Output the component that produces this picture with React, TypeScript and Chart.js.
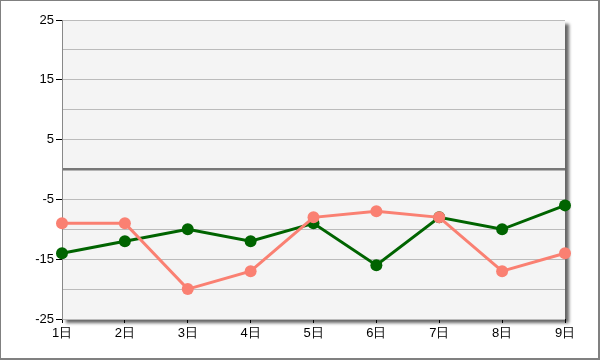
import React, { useEffect, useRef } from "react";
import { Chart, registerables } from "chart.js";

Chart.register(...registerables);

const categories = ["1日", "2日", "3日", "4日", "5日", "6日", "7日", "8日", "9日"];
const greenValues = [-14, -12, -10, -12, -9, -16, -8, -10, -6];
const salmonValues = [-9, -9, -20, -17, -8, -7, -8, -17, -14];
const yMin = -25;
const yMax = 25;
const labeledTicks = [25, 15, 5, -5, -15, -25];

const bgPlugin = {
  id: "bgPlugin",
  beforeDraw(chart: any) {
    const { ctx, chartArea, width, height } = chart;
    ctx.save();
    ctx.fillStyle = "#ffffff";
    ctx.fillRect(0, 0, width, height);
    // outer border
    ctx.fillStyle = "#808080";
    ctx.fillRect(0, 0, width, 1);
    ctx.fillRect(0, 0, 1, height);
    ctx.fillRect(width - 2, 0, 2, height);
    ctx.fillRect(0, height - 2, width, 2);
    // plot shadow + background
    const { left, top, right, bottom } = chartArea;
    ctx.shadowColor = "rgba(0,0,0,0.6)";
    ctx.shadowBlur = 3;
    ctx.shadowOffsetX = 4;
    ctx.shadowOffsetY = 4;
    ctx.fillStyle = "#f4f4f4";
    ctx.fillRect(left, top, right - left, bottom - top);
    ctx.restore();
  },
};

export default function App() {
  const ref = useRef<HTMLCanvasElement>(null);
  useEffect(() => {
    if (!ref.current) return;
    const font = { family: "'Liberation Sans', Arial, sans-serif", size: 13 };
    const chart = new Chart(ref.current, {
      type: "line",
      data: {
        labels: categories,
        datasets: [
          {
            data: salmonValues,
            borderColor: "#fa8072",
            backgroundColor: "#fa8072",
            borderWidth: 3,
            pointRadius: 6,
            pointHoverRadius: 6,
            pointBorderWidth: 0,
            tension: 0,
          },
          {
            data: greenValues,
            borderColor: "#006400",
            backgroundColor: "#006400",
            borderWidth: 3,
            pointRadius: 6,
            pointHoverRadius: 6,
            pointBorderWidth: 0,
            tension: 0,
          },
        ],
      },
      options: {
        responsive: false,
        animation: false,
        layout: { padding: { left: 0, top: 20, right: 35, bottom: 0 } },
        plugins: { legend: { display: false }, tooltip: { enabled: false } },
        scales: {
          x: {
            offset: false,
            border: { display: false },
            grid: {
              drawOnChartArea: false,
              drawTicks: true,
              tickLength: 4,
              tickColor: "#000000",
            },
            ticks: { color: "#000000", font, padding: 3, maxRotation: 0 },
            afterFit(scale: any) {
              scale.height = 41;
            },
          },
          y: {
            min: yMin,
            max: yMax,
            border: { display: true, color: "#888888", width: 1 },
            grid: {
              color: (ctx: any) => (ctx.tick && ctx.tick.value === 0 ? "#777777" : "#bbbbbb"),
              lineWidth: (ctx: any) => (ctx.tick && ctx.tick.value === 0 ? 2.5 : 1),
              tickLength: 6,
              tickColor: (ctx: any) =>
                ctx.tick && labeledTicks.includes(ctx.tick.value) ? "#000000" : "rgba(0,0,0,0)",
              tickWidth: 1,
            },
            ticks: {
              stepSize: 5,
              color: "#000000",
              font,
              padding: 2,
              autoSkip: false,
              callback: (v: any) => (labeledTicks.includes(Number(v)) ? String(v) : ""),
            },
            afterFit(scale: any) {
              scale.width = 62;
            },
          },
        },
      },
      plugins: [bgPlugin],
    });
    return () => chart.destroy();
  }, []);
  return (
    <div style={{ position: "absolute", left: 0, top: 0, width: 600, height: 360 }}>
      <canvas ref={ref} width={600} height={360} />
    </div>
  );
}
